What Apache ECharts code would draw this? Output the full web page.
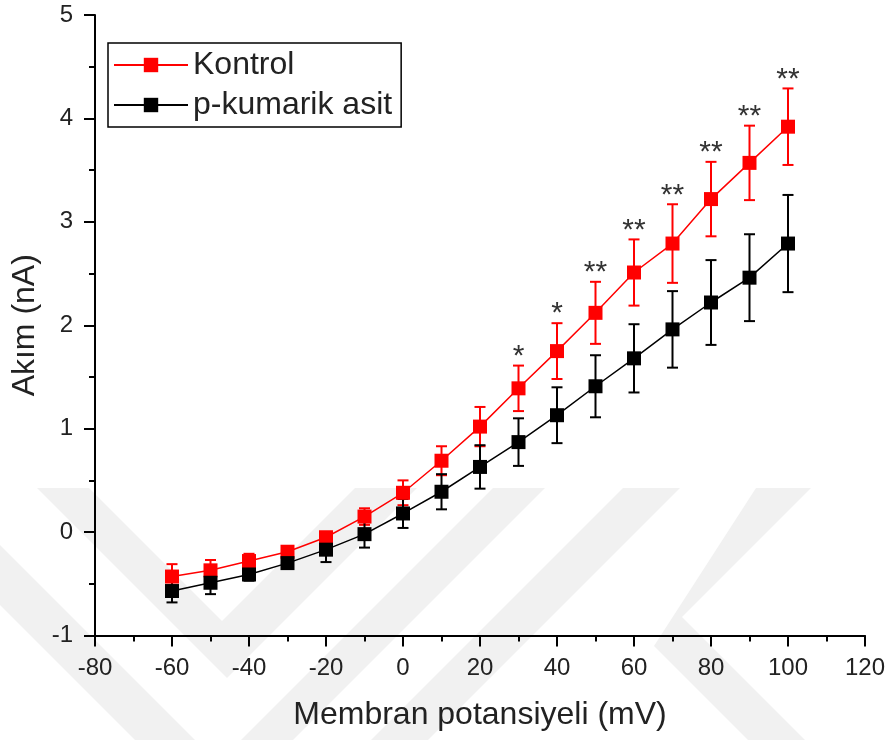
<!DOCTYPE html>
<html>
<head>
<meta charset="utf-8">
<script src="https://cdn.jsdelivr.net/npm/echarts@6/dist/echarts.min.js"></script>
<style>
  html, body { margin: 0; padding: 0; background: #fff; }
  #chart { width: 893px; height: 740px; }
</style>
</head>
<body>
<div id="chart"></div>
<script>
// membrane potential (mV)
var voltages = [-60, -50, -40, -30, -20, -10, 0, 10, 20, 30, 40, 50, 60, 70, 80, 90, 100];
// current (nA), mean and error
var kontrol = [-0.43, -0.37, -0.28, -0.19, -0.05, 0.15, 0.38, 0.69, 1.02, 1.39, 1.75, 2.12, 2.51, 2.79, 3.22, 3.57, 3.92];
var kontrolErr = [0.12, 0.10, 0.07, 0.05, 0.05, 0.08, 0.12, 0.14, 0.19, 0.22, 0.27, 0.30, 0.32, 0.38, 0.36, 0.36, 0.37];
var pKumarik = [-0.57, -0.49, -0.41, -0.30, -0.17, -0.02, 0.18, 0.39, 0.63, 0.87, 1.13, 1.41, 1.68, 1.96, 2.22, 2.46, 2.79];
var pKumarikErr = [0.11, 0.11, 0.06, 0.05, 0.12, 0.13, 0.14, 0.17, 0.21, 0.23, 0.27, 0.30, 0.33, 0.37, 0.41, 0.42, 0.47];
var significance = ['', '', '', '', '', '', '', '', '', '*', '*', '**', '**', '**', '**', '**', '**'];

var textColor = '#222';
var font = 'Arial, "Liberation Sans", sans-serif';

function pairs(ys) {
  return voltages.map(function (x, i) { return [x, ys[i]]; });
}
function errData(ys, errs) {
  return voltages.map(function (x, i) { return [x, ys[i] - errs[i], ys[i] + errs[i]]; });
}
function errorBars(color) {
  return function (params, api) {
    var x = api.value(0);
    var lo = api.coord([x, api.value(1)]);
    var hi = api.coord([x, api.value(2)]);
    var half = 5.5;
    var style = { stroke: color, lineWidth: 2 };
    return {
      type: 'group',
      children: [
        { type: 'line', shape: { x1: lo[0], y1: lo[1], x2: hi[0], y2: hi[1] }, style: style },
        { type: 'line', shape: { x1: hi[0] - half, y1: hi[1], x2: hi[0] + half, y2: hi[1] }, style: style },
        { type: 'line', shape: { x1: lo[0] - half, y1: lo[1], x2: lo[0] + half, y2: lo[1] }, style: style }
      ]
    };
  };
}

// faint watermark bands in the background
var band = '#f1f1f1';
var watermark = [
  [[37, 488], [89, 488], [222, 621], [355, 488], [417, 488], [227, 678]],
  [[0, 545], [0, 605], [135, 740], [195, 740]],
  [[493, 488], [545, 488], [293, 740], [241, 740]],
  [[623, 488], [680, 488], [428, 740], [371, 740]],
  [[756, 488], [811, 488], [682, 617], [805, 740], [748, 740], [654, 646]]
].map(function (pts) {
  return { type: 'polygon', silent: true, z: -10, shape: { points: pts }, style: { fill: band } };
});

var chart = echarts.init(document.getElementById('chart'));
chart.setOption({
  backgroundColor: '#fff',
  animation: false,
  graphic: watermark,
  grid: { left: 95, right: 28, top: 15, bottom: 104.5, containLabel: false },
  legend: {
    left: 108,
    top: 43,
    orient: 'vertical',
    data: ['Kontrol', 'p-kumarik asit'],
    itemWidth: 74,
    itemHeight: 18,
    itemGap: 8,
    padding: [6, 9, 6, 5],
    borderColor: '#000',
    borderWidth: 1.5,
    borderRadius: 0,
    textStyle: { fontSize: 32, lineHeight: 32, color: textColor, fontFamily: font }
  },
  xAxis: {
    type: 'value',
    min: -80,
    max: 120,
    interval: 20,
    name: 'Membran potansiyeli (mV)',
    nameLocation: 'middle',
    nameGap: 64,
    nameTextStyle: { fontSize: 32, color: textColor, fontFamily: font },
    axisLine: { onZero: false, lineStyle: { color: '#000', width: 2 } },
    axisTick: { length: 11, lineStyle: { color: '#000', width: 2 } },
    minorTick: { show: true, splitNumber: 2, length: 6, lineStyle: { color: '#000', width: 2 } },
    axisLabel: { fontSize: 24, margin: 21, color: textColor, fontFamily: font },
    splitLine: { show: false }
  },
  yAxis: {
    type: 'value',
    min: -1,
    max: 5,
    interval: 1,
    name: 'Akım (nA)',
    nameLocation: 'middle',
    nameGap: 46,
    nameTextStyle: { fontSize: 32, color: textColor, fontFamily: font },
    axisLine: { show: true, onZero: false, lineStyle: { color: '#000', width: 2 } },
    axisTick: { show: true, length: 11, lineStyle: { color: '#000', width: 2 } },
    minorTick: { show: true, splitNumber: 2, length: 6, lineStyle: { color: '#000', width: 2 } },
    axisLabel: { fontSize: 24, margin: 22, color: textColor, fontFamily: font },
    splitLine: { show: false }
  },
  series: [
    {
      type: 'custom',
      name: 'kontrol-err',
      renderItem: errorBars('#ff0000'),
      data: errData(kontrol, kontrolErr),
      silent: true
    },
    {
      type: 'line',
      name: 'Kontrol',
      data: pairs(kontrol),
      symbol: 'rect',
      symbolSize: 14,
      color: '#ff0000',
      lineStyle: { color: '#ff0000', width: 1.5 },
      itemStyle: { color: '#ff0000' }
    },
    {
      type: 'custom',
      name: 'pkumarik-err',
      renderItem: errorBars('#000'),
      data: errData(pKumarik, pKumarikErr),
      silent: true
    },
    {
      type: 'line',
      name: 'p-kumarik asit',
      data: pairs(pKumarik),
      symbol: 'rect',
      symbolSize: 14,
      color: '#000',
      lineStyle: { color: '#000', width: 1.5 },
      itemStyle: { color: '#000' }
    },
    {
      type: 'custom',
      name: 'stars',
      silent: true,
      data: errData(kontrol, kontrolErr),
      renderItem: function (params, api) {
        var mark = significance[params.dataIndex];
        if (!mark) return null;
        var p = api.coord([api.value(0), api.value(2)]);
        return {
          type: 'text',
          style: {
            text: mark,
            x: p[0],
            y: p[1] - 9,
            align: 'center',
            verticalAlign: 'middle',
            fontSize: 30,
            fontFamily: font,
            fill: '#333'
          }
        };
      }
    }
  ]
});
</script>
</body>
</html>
